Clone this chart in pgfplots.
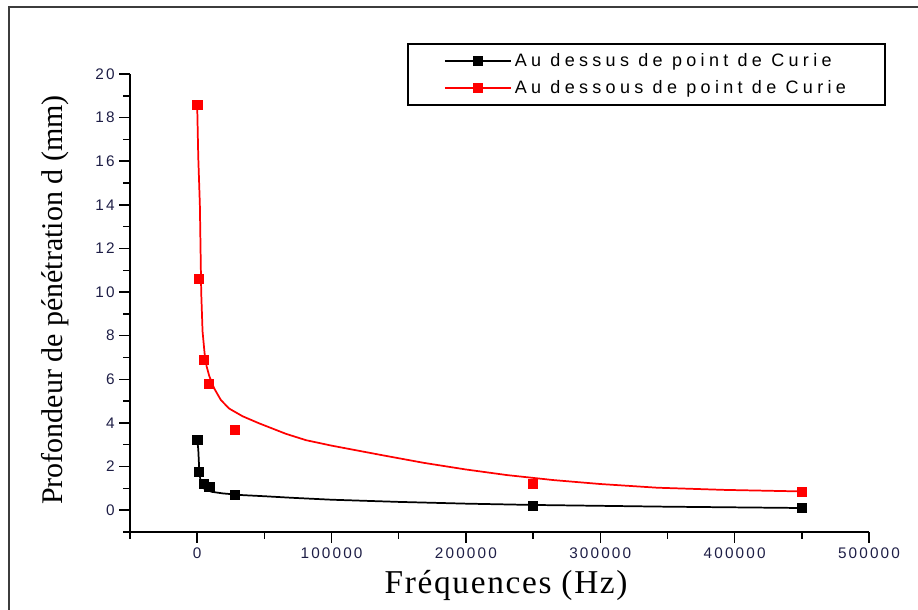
\documentclass[border=0pt]{standalone}
\usepackage{pgfplots}
\usepackage{pgfplotstable}
\pgfplotsset{compat=1.18}
\usepackage{fontspec}
\setmainfont{Liberation Serif}
\newfontfamily\ticfont[LetterSpace=14]{Liberation Sans}
\newfontfamily\legfont[LetterSpace=24]{Liberation Sans}
\newfontfamily\labfont{Liberation Serif}
\newfontfamily\xlabfont[LetterSpace=5]{Liberation Serif}
\definecolor{ticcol}{RGB}{30,30,70}
\definecolor{framecol}{RGB}{60,60,60}

\pgfplotstableread{
x y
50 3.24
1500 1.76
5000 1.19
9000 1.07
28000 0.69
250000 0.21
450000 0.11
}\blackpts

\pgfplotstableread{
x y
50 18.58
1500 10.6
5200 6.91
8900 5.81
28000 3.70
250000 1.19
450000 0.84
}\redpts

\pgfplotstableread{
x y
0 3.24
800 2.8
1500 1.9
2500 1.3
4000 1.05
6000 0.95
11000 0.84
19000 0.77
34000 0.69
50000 0.64
70000 0.57
100000 0.48
150000 0.38
200000 0.30
250000 0.24
300000 0.20
350000 0.16
400000 0.13
450000 0.10
}\blackfit

\pgfplotstableread{
x y
0 18.6
800 16.2
2000 14
3000 10
4000 8.2
5500 7.2
7000 6.6
9000 6.15
12700 5.58
17650 5.05
23800 4.66
33700 4.31
46200 3.98
66100 3.5
81000 3.21
100000 2.96
137800 2.52
168700 2.17
199600 1.87
230500 1.61
265200 1.38
300000 1.2
342500 1.03
392700 0.93
450000 0.86
}\redfit

\begin{document}
\begin{tikzpicture}
\useasboundingbox (0,0) rectangle (688.5pt,457.5pt);
\draw[line width=1.5pt, framecol] (6.75pt,-20pt) rectangle (720pt,452.25pt);
\begin{axis}[
  at={(97.5pt,58.5pt)}, anchor=south west,
  scale only axis, width=554.25pt, height=343.5pt,
  xmin=-50000, xmax=500000, ymin=-1, ymax=20,
  axis lines*=left,
  axis line style={line width=1.5pt},
  xtick={0,100000,...,500000},
  minor xtick={-50000,50000,150000,250000,350000,450000},
  ytick={0,2,...,20},
  minor ytick={-1,1,3,...,19},
  tick align=outside,
  major tick length=8pt, minor tick length=5pt,
  tick style={black, line width=1.1pt},
  scaled x ticks=false,
  /pgf/number format/assume math mode=true,
  xticklabel style={/pgf/number format/fixed, /pgf/number format/1000 sep={}},
  ticklabel style={font=\ticfont\fontsize{11.5}{13}\selectfont, text=ticcol},
  xlabel={Fréquences (Hz)},
  ylabel={Profondeur de pénétration d (mm)},
  xlabel style={font=\xlabfont\fontsize{25}{29}\selectfont, at={(rel axis cs:0.509,-0.1157)}, anchor=center},
  ylabel style={font=\labfont\fontsize{22.5}{26}\selectfont, at={(rel axis cs:-0.1015,0.5066)}, anchor=center},
  legend style={at={(rel axis cs:0.375,1.0677)}, anchor=north west,
    draw=black, line width=1.5pt, font=\legfont\fontsize{13.5}{16}\selectfont,
    inner xsep=27pt, inner ysep=5pt, row sep=5pt},
  legend cell align=left,
  legend image code/.code={\draw[#1] plot coordinates {(0pt,0pt) (25pt,0pt) (50pt,0pt)};},
]
\addlegendimage{black, line width=1pt, mark=square*, mark size=3.2pt, mark repeat=2, mark phase=2}
\addlegendentry{Au dessus de point de Curie}
\addlegendimage{red, line width=1pt, mark=square*, mark size=3.2pt, mark repeat=2, mark phase=2}
\addlegendentry{Au dessous de point de Curie}
\addplot[black, line width=1.3pt, forget plot] table[x=x,y=y] {\blackfit};
\addplot[red, line width=1.3pt, forget plot] table[x=x,y=y] {\redfit};
\addplot[only marks, mark=square*, mark size=3.4pt, black, forget plot] table[x=x,y=y] {\blackpts};
\addplot[only marks, mark=square*, mark size=3.4pt, red, forget plot] table[x=x,y=y] {\redpts};
\end{axis}
\end{tikzpicture}
\end{document}
